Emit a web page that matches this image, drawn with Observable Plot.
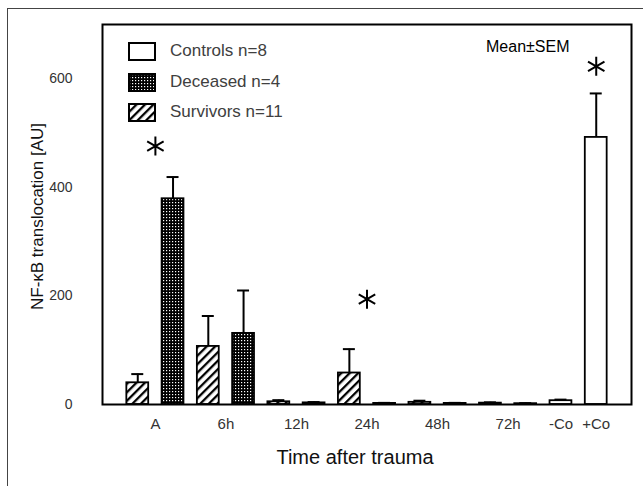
<!DOCTYPE html>
<html>
<head>
<meta charset="utf-8">
<script src="https://cdn.jsdelivr.net/npm/d3@7"></script>
<script src="https://cdn.jsdelivr.net/npm/@observablehq/plot@0.6"></script>
<style>
  html, body { margin: 0; padding: 0; background: #fff; overflow: hidden; }
  body { width: 643px; height: 486px; position: relative; font-family: "Liberation Sans", Arial, sans-serif; }
  #border { position: absolute; left: 7px; top: 8px; width: 800px; height: 800px; border-left: 1.5px solid #444; border-top: 1.5px solid #444; pointer-events: none; }
  #chart { position: absolute; left: 0; top: 0; }
  .legend { position: absolute; left: 128px; font-size: 17px; color: #404040; display: flex; align-items: center; }
  .legend svg { margin-right: 14px; }
  #meansem { position: absolute; left: 486px; top: 38px; font-size: 16px; color: #000; }
</style>
</head>
<body>
<div id="chart"></div>
<div id="border"></div>
<script>
// ---- data ----
const timepoints = ["A", "6h", "12h", "24h", "48h", "72h"];
const survivorsMean = [40, 107, 5, 58, 4, 2.5];
const survivorsSEM  = [16, 56, 3, 44, 3, 1.5];
const deceasedMean  = [379, 131, 3, 2, 2, 1.5];
const deceasedSEM   = [40, 79, 1.5, 1, 1, 1];
const controls      = ["-Co", "+Co"];
const controlsMean  = [7, 492];
const controlsSEM   = [2, 81];
const seriesNames   = ["Controls n=8", "Deceased n=4", "Survivors n=11"];
const yTicks        = [0, 200, 400, 600];
const significance  = [{label: "A", y: 476}, {label: "24h", y: 194}, {label: "+Co", y: 623}];

// ---- build table: slot order = survivor, deceased per timepoint, then controls ----
const rows = [];
const groups = [];
timepoints.forEach((t, i) => {
  rows.push({group: t, series: "Survivors", slot: 2 * i + 1, mean: survivorsMean[i], sem: survivorsSEM[i]});
  rows.push({group: t, series: "Deceased", slot: 2 * i + 2, mean: deceasedMean[i], sem: deceasedSEM[i]});
  groups.push({label: t, pos: 2 * i + 1.5});
});
controls.forEach((c, j) => {
  const slot = 2 * timepoints.length + 1 + j;
  rows.push({group: c, series: "Controls", slot, mean: controlsMean[j], sem: controlsSEM[j]});
  groups.push({label: c, pos: slot});
});
const nSlots = rows.length;
const fillFor = {Survivors: "url(#hatch)", Deceased: "url(#dots)", Controls: "white"};
const posOf = Object.fromEntries(groups.map(g => [g.label, g.pos]));
const half = 0.31, capHalf = 0.17;

const chart = Plot.plot({
  width: 643,
  height: 486,
  marginLeft: 102,
  marginRight: 12,
  marginTop: 24,
  marginBottom: 82,
  style: {fontFamily: "Liberation Sans, Arial, sans-serif", background: "white"},
  x: {domain: [0, nSlots + 1], axis: null},
  y: {domain: [0, 700], axis: null},
  marks: [
    Plot.ruleX(rows, {x: "slot", y1: "mean", y2: d => d.mean + d.sem, stroke: "black", strokeWidth: 2}),
    Plot.ruleY(rows, {y: d => d.mean + d.sem, x1: d => d.slot - capHalf, x2: d => d.slot + capHalf, stroke: "black", strokeWidth: 2}),
    Plot.rectY(rows, {x1: d => d.slot - half, x2: d => d.slot + half, y1: 0, y2: "mean", fill: d => fillFor[d.series], stroke: "black", strokeWidth: 1.8}),
    Plot.frame({stroke: "black", strokeWidth: 2}),
    Plot.axisY({ticks: yTicks, tickSize: 0, tickPadding: 30, fontSize: 14, color: "#333", label: null}),
    Plot.text(groups, {x: "pos", y: 0, text: "label", dy: 20, fontSize: 15, fill: "#333"}),
    Plot.dot(significance, {x: d => posOf[d.label], y: "y", symbol: "asterisk", r: 9, stroke: "black", strokeWidth: 2}),
    Plot.text(["Time after trauma"], {frameAnchor: "bottom", dy: 59, dx: -12, fontSize: 20, fill: "#111"}),
    Plot.text(["NF-\u03BAB translocation [AU]"], {frameAnchor: "left", textAnchor: "middle", dx: -65, dy: 2, rotate: -90, fontSize: 17, fill: "#111"})
  ]
});

// pattern definitions
const defs = d3.create("svg:defs");
const hatch = defs.append("pattern").attr("id", "hatch").attr("patternUnits", "userSpaceOnUse")
  .attr("width", 6).attr("height", 6).attr("patternTransform", "rotate(45)");
hatch.append("rect").attr("width", 6).attr("height", 6).attr("fill", "white");
hatch.append("rect").attr("x", 0).attr("width", 2.3).attr("height", 6).attr("fill", "black");
const dots = defs.append("pattern").attr("id", "dots").attr("patternUnits", "userSpaceOnUse")
  .attr("width", 3).attr("height", 3);
dots.append("rect").attr("width", 3).attr("height", 3).attr("fill", "black");
dots.append("rect").attr("x", 1).attr("y", 1).attr("width", 1.2).attr("height", 1.2).attr("fill", "white");
chart.insertBefore(defs.node(), chart.firstChild);

document.getElementById("chart").appendChild(chart);

// legend inside plot area
const legendFills = ["white", "url(#dotsL)", "url(#hatchL)"];
const legendTops = [41, 72, 102];
seriesNames.forEach((name, i) => {
  const div = document.createElement("div");
  div.className = "legend";
  div.style.top = legendTops[i] + "px";
  div.innerHTML = `<svg width="28" height="19">
    <defs>
      <pattern id="hatchL" patternUnits="userSpaceOnUse" width="6" height="6" patternTransform="rotate(45)">
        <rect width="6" height="6" fill="white"/><rect width="2.3" height="6" fill="black"/></pattern>
      <pattern id="dotsL" patternUnits="userSpaceOnUse" width="3" height="3">
        <rect width="3" height="3" fill="black"/><rect x="1" y="1" width="1.2" height="1.2" fill="white"/></pattern>
    </defs>
    <rect x="1" y="1" width="26" height="17" fill="${legendFills[i]}" stroke="black" stroke-width="2"/></svg><span>${name}</span>`;
  document.body.appendChild(div);
});
const ms = document.createElement("div");
ms.id = "meansem";
ms.textContent = "Mean\u00B1SEM";
document.body.appendChild(ms);
</script>
</body>
</html>
